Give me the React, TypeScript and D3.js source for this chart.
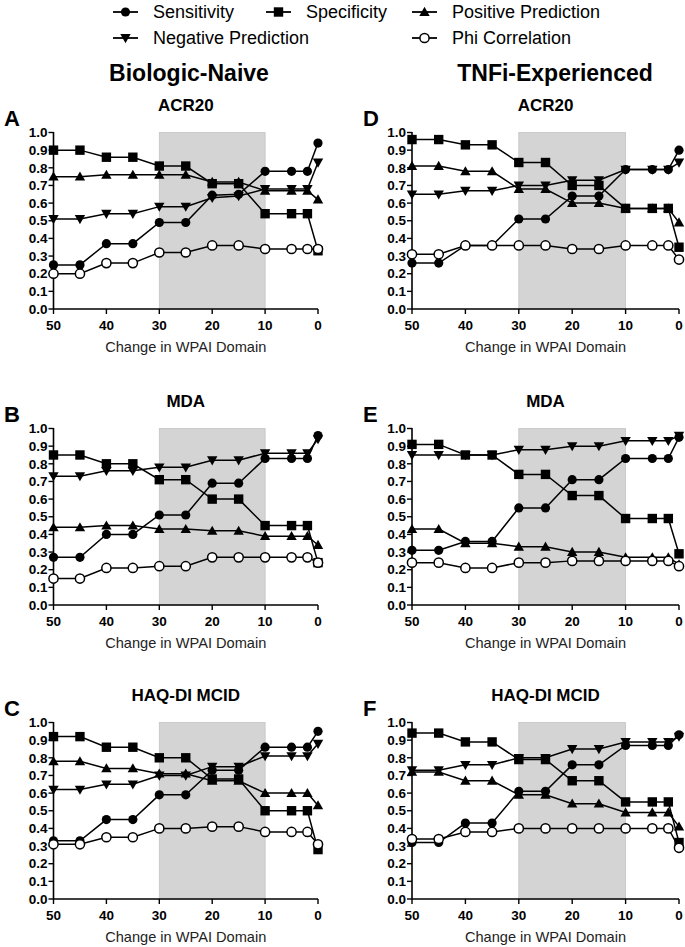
import React from "react";
import * as d3 from "d3";

const X_VALUES = [50, 45, 40, 35, 30, 25, 20, 15, 10, 5, 2, 0];
const X_TICKS = [50, 40, 30, 20, 10, 0];
const Y_TICKS = [0, 0.1, 0.2, 0.3, 0.4, 0.5, 0.6, 0.7, 0.8, 0.9, 1.0];
const SHADE = [30, 10];

const SERIES_NAMES = ["Sensitivity", "Specificity", "Positive Prediction", "Negative Prediction", "Phi Correlation"];
const SERIES_KEYS = ["sens", "spec", "ppv", "npv", "phi"];

// Panel A: Biologic-Naive, ACR20
const A_SENS = [0.25, 0.25, 0.37, 0.37, 0.49, 0.49, 0.645, 0.65, 0.78, 0.78, 0.78, 0.94];
const A_SPEC = [0.90, 0.90, 0.86, 0.86, 0.81, 0.81, 0.71, 0.71, 0.54, 0.54, 0.54, 0.33];
const A_PPV = [0.75, 0.75, 0.76, 0.76, 0.76, 0.76, 0.72, 0.72, 0.67, 0.67, 0.67, 0.62];
const A_NPV = [0.51, 0.51, 0.54, 0.54, 0.58, 0.58, 0.63, 0.64, 0.68, 0.68, 0.68, 0.83];
const A_PHI = [0.20, 0.20, 0.26, 0.26, 0.32, 0.32, 0.36, 0.36, 0.34, 0.34, 0.34, 0.34];

// Panel B: Biologic-Naive, MDA
const B_SENS = [0.27, 0.27, 0.40, 0.40, 0.51, 0.51, 0.69, 0.69, 0.83, 0.83, 0.83, 0.96];
const B_SPEC = [0.85, 0.85, 0.80, 0.80, 0.71, 0.71, 0.60, 0.60, 0.45, 0.45, 0.45, 0.24];
const B_PPV = [0.44, 0.44, 0.45, 0.45, 0.43, 0.43, 0.42, 0.42, 0.39, 0.39, 0.39, 0.34];
const B_NPV = [0.73, 0.73, 0.76, 0.76, 0.78, 0.78, 0.82, 0.82, 0.86, 0.86, 0.86, 0.94];
const B_PHI = [0.15, 0.15, 0.21, 0.21, 0.22, 0.22, 0.27, 0.27, 0.27, 0.27, 0.27, 0.24];

// Panel C: Biologic-Naive, HAQ-DI MCID
const C_SENS = [0.33, 0.33, 0.45, 0.45, 0.59, 0.59, 0.73, 0.73, 0.86, 0.86, 0.86, 0.95];
const C_SPEC = [0.92, 0.92, 0.86, 0.86, 0.80, 0.80, 0.68, 0.68, 0.50, 0.50, 0.50, 0.28];
const C_PPV = [0.78, 0.78, 0.74, 0.74, 0.71, 0.71, 0.67, 0.67, 0.60, 0.60, 0.60, 0.53];
const C_NPV = [0.62, 0.62, 0.65, 0.65, 0.70, 0.70, 0.75, 0.75, 0.81, 0.81, 0.81, 0.88];
const C_PHI = [0.31, 0.31, 0.35, 0.35, 0.40, 0.40, 0.41, 0.41, 0.38, 0.38, 0.38, 0.31];

// Panel D: TNFi-Experienced, ACR20
const D_SENS = [0.26, 0.26, 0.36, 0.36, 0.51, 0.51, 0.64, 0.64, 0.79, 0.79, 0.79, 0.90];
const D_SPEC = [0.96, 0.96, 0.93, 0.93, 0.83, 0.83, 0.70, 0.70, 0.57, 0.57, 0.57, 0.35];
const D_PPV = [0.81, 0.81, 0.78, 0.78, 0.68, 0.68, 0.60, 0.60, 0.57, 0.57, 0.57, 0.49];
const D_NPV = [0.65, 0.65, 0.67, 0.67, 0.70, 0.70, 0.73, 0.73, 0.79, 0.79, 0.79, 0.83];
const D_PHI = [0.31, 0.31, 0.36, 0.36, 0.36, 0.36, 0.34, 0.34, 0.36, 0.36, 0.36, 0.28];

// Panel E: TNFi-Experienced, MDA
const E_SENS = [0.31, 0.31, 0.36, 0.36, 0.55, 0.55, 0.71, 0.71, 0.83, 0.83, 0.83, 0.95];
const E_SPEC = [0.91, 0.91, 0.85, 0.85, 0.74, 0.74, 0.62, 0.62, 0.49, 0.49, 0.49, 0.29];
const E_PPV = [0.43, 0.43, 0.35, 0.35, 0.33, 0.33, 0.30, 0.30, 0.27, 0.27, 0.27, 0.23];
const E_NPV = [0.85, 0.85, 0.85, 0.85, 0.88, 0.88, 0.90, 0.90, 0.93, 0.93, 0.93, 0.96];
const E_PHI = [0.24, 0.24, 0.21, 0.21, 0.24, 0.24, 0.25, 0.25, 0.25, 0.25, 0.25, 0.22];

// Panel F: TNFi-Experienced, HAQ-DI MCID
const F_SENS = [0.32, 0.32, 0.43, 0.43, 0.61, 0.61, 0.76, 0.76, 0.87, 0.87, 0.87, 0.93];
const F_SPEC = [0.94, 0.94, 0.89, 0.89, 0.79, 0.79, 0.67, 0.67, 0.55, 0.55, 0.55, 0.32];
const F_PPV = [0.72, 0.72, 0.67, 0.67, 0.59, 0.59, 0.54, 0.54, 0.49, 0.49, 0.49, 0.41];
const F_NPV = [0.73, 0.73, 0.76, 0.76, 0.80, 0.80, 0.85, 0.85, 0.89, 0.89, 0.89, 0.92];
const F_PHI = [0.34, 0.34, 0.38, 0.38, 0.40, 0.40, 0.40, 0.40, 0.40, 0.40, 0.40, 0.29];

const COLUMN_TITLES = ["Biologic-Naive", "TNFi-Experienced"];
const PANEL_TITLES = ["ACR20", "MDA", "HAQ-DI MCID"];
const PANEL_LETTERS = [["A", "B", "C"], ["D", "E", "F"]];
const PANEL_DATA = [
  [[A_SENS, A_SPEC, A_PPV, A_NPV, A_PHI], [B_SENS, B_SPEC, B_PPV, B_NPV, B_PHI], [C_SENS, C_SPEC, C_PPV, C_NPV, C_PHI]],
  [[D_SENS, D_SPEC, D_PPV, D_NPV, D_PHI], [E_SENS, E_SPEC, E_PPV, E_NPV, E_PHI], [F_SENS, F_SPEC, F_PPV, F_NPV, F_PHI]],
];
const X_TITLE = "Change in WPAI Domain";

const FONT = "'Liberation Sans', Arial, Helvetica, sans-serif";

// layout
const COL_X = [[53.5, 318], [412, 679]];
const ROW_TOP = [132.5, 428.5, 722.5];
const PLOT_H = 176.5;

function Marker({ kind, x, y }: { kind: string; x: number; y: number }) {
  if (kind === "sens") return <circle cx={x} cy={y} r={4.6} fill="#000" />;
  if (kind === "phi") return <circle cx={x} cy={y} r={4.6} fill="#fff" stroke="#000" strokeWidth={1.5} />;
  if (kind === "spec") return <rect x={x - 4.7} y={y - 4.7} width={9.4} height={9.4} fill="#000" />;
  const s = 5.2;
  if (kind === "ppv") {
    return <path d={`M${x},${y - s} L${x + s},${y + s * 0.75} L${x - s},${y + s * 0.75} Z`} fill="#000" />;
  }
  return <path d={`M${x},${y + s} L${x + s},${y - s * 0.75} L${x - s},${y - s * 0.75} Z`} fill="#000" />;
}

function Panel({ col, row }: { col: number; row: number }) {
  const [x0, x1] = COL_X[col];
  const top = ROW_TOP[row];
  const bottom = top + PLOT_H;
  const x = d3.scaleLinear().domain([50, 0]).range([x0, x1]);
  const y = d3.scaleLinear().domain([0, 1]).range([bottom, top]);
  const series = PANEL_DATA[col][row];
  const line = d3.line<number>().x((_, i) => x(X_VALUES[i])).y((v) => y(v));
  const cx = (x0 + x1) / 2;
  return (
    <g>
      <text x={cx} y={top - 22} textAnchor="middle" fontFamily={FONT} fontWeight="bold" fontSize={17}>
        {PANEL_TITLES[row]}
      </text>
      <text x={col === 0 ? 4 : 363} y={top - 7} fontFamily={FONT} fontWeight="bold" fontSize={22}>
        {PANEL_LETTERS[col][row]}
      </text>
      <rect x={x(SHADE[0])} y={y(1)} width={x(SHADE[1]) - x(SHADE[0])} height={y(0) - y(1)} fill="#d4d4d4" stroke="#c4c4c4" strokeWidth={0.8} />
      {/* y axis */}
      <line x1={x0} x2={x0} y1={y(1) - 0.5} y2={bottom} stroke="#000" strokeWidth={1.6} />
      {Y_TICKS.map((t) => (
        <g key={t}>
          <line x1={x0 - 5} x2={x0} y1={y(t)} y2={y(t)} stroke="#000" strokeWidth={1.4} />
          <text x={x0 - 6} y={y(t)} dy="0.35em" textAnchor="end" fontFamily={FONT} fontWeight="bold" fontSize={13.5}>
            {t.toFixed(1)}
          </text>
        </g>
      ))}
      {/* x axis */}
      <line x1={x0} x2={x1} y1={bottom} y2={bottom} stroke="#000" strokeWidth={1.6} />
      {X_TICKS.map((t) => (
        <g key={t}>
          <line x1={x(t)} x2={x(t)} y1={bottom} y2={bottom + 5} stroke="#000" strokeWidth={1.4} />
          <text x={x(t)} y={bottom + 16} dy="0.35em" textAnchor="middle" fontFamily={FONT} fontWeight="bold" fontSize={13.5}>
            {t}
          </text>
        </g>
      ))}
      <text x={cx} y={bottom + 38} dy="0.35em" textAnchor="middle" fontFamily={FONT} fontSize={14.6} fill="#222">
        {X_TITLE}
      </text>
      {series.map((vals, si) => (
        <path key={"l" + si} d={line(vals) || ""} fill="none" stroke="#000" strokeWidth={1.5} />
      ))}
      {series.map((vals, si) =>
        vals.map((v, i) => <Marker key={si + "-" + i} kind={SERIES_KEYS[si]} x={x(X_VALUES[i])} y={y(v)} />)
      )}
    </g>
  );
}

const LEGEND_POS = [
  [113, 12],
  [266, 12],
  [412, 12],
  [113, 38],
  [412, 38],
];

export default function App() {
  return (
    <svg width={685} height={947} style={{ position: "absolute", left: 0, top: 0, background: "#fff" }}>
      <rect width={685} height={947} fill="#fff" />
      {SERIES_NAMES.map((name, i) => {
        const [lx, ly] = LEGEND_POS[i];
        return (
          <g key={name}>
            <line x1={lx} x2={lx + 25} y1={ly} y2={ly} stroke="#000" strokeWidth={1.8} />
            <Marker kind={SERIES_KEYS[i]} x={lx + 12.5} y={ly} />
            <text x={lx + 40} y={ly} dy="0.35em" fontFamily={FONT} fontSize={18}>
              {name}
            </text>
          </g>
        );
      })}
      {COLUMN_TITLES.map((t, c) => (
        <text key={t} x={c === 0 ? 189 : 555} y={73} dy="0.35em" textAnchor="middle" fontFamily={FONT} fontWeight="bold" fontSize={23}>
          {t}
        </text>
      ))}
      {[0, 1].map((c) => [0, 1, 2].map((r) => <Panel key={c + "-" + r} col={c} row={r} />))}
    </svg>
  );
}
